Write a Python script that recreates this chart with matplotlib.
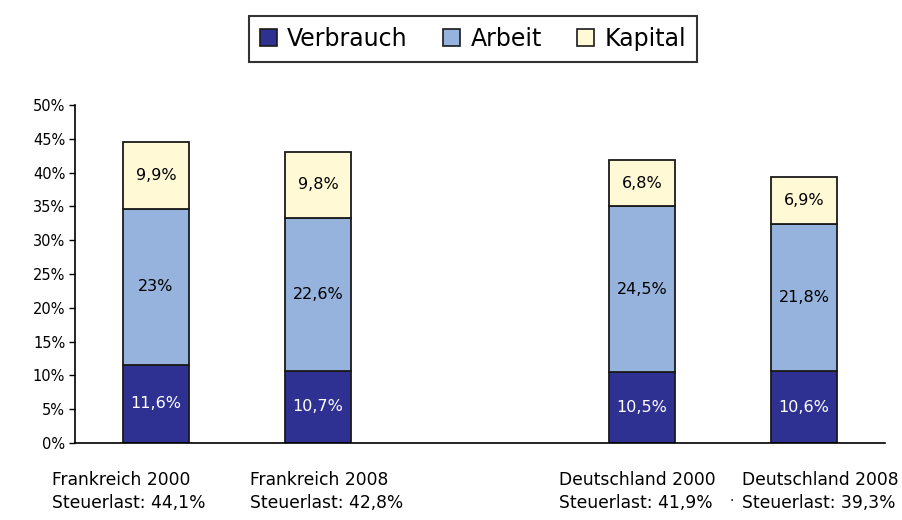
import matplotlib
matplotlib.use("Agg")
import matplotlib.pyplot as plt
from matplotlib.patches import Patch

categories = ["Frankreich 2000", "Frankreich 2008", "Deutschland 2000", "Deutschland 2008"]
steuerlast = ["44,1%", "42,8%", "41,9%", "39,3%"]
verbrauch = [11.6, 10.7, 10.5, 10.6]
arbeit = [23.0, 22.6, 24.5, 21.8]
kapital = [9.9, 9.8, 6.8, 6.9]
verbrauch_lbl = ["11,6%", "10,7%", "10,5%", "10,6%"]
arbeit_lbl = ["23%", "22,6%", "24,5%", "21,8%"]
kapital_lbl = ["9,9%", "9,8%", "6,8%", "6,9%"]
positions = [0, 1, 3, 4]

c_v = "#2E3192"
c_a = "#95B3DD"
c_k = "#FFF9D6"
edge = "#1a1a1a"

fig = plt.figure(figsize=(9.03, 5.2), dpi=100)
ax = fig.add_axes([75/903, 1-443/520, (885-75)/903, (443-105)/520])

w = 0.41
ax.bar(positions, verbrauch, w, color=c_v, edgecolor=edge, linewidth=1.3)
ax.bar(positions, arbeit, w, bottom=verbrauch, color=c_a, edgecolor=edge, linewidth=1.3)
bot3 = [v + a for v, a in zip(verbrauch, arbeit)]
ax.bar(positions, kapital, w, bottom=bot3, color=c_k, edgecolor=edge, linewidth=1.3)

fs_lbl = 11.5
for i, p in enumerate(positions):
    ax.text(p, verbrauch[i] / 2, verbrauch_lbl[i], ha="center", va="center", color="white", fontsize=fs_lbl)
    ax.text(p, verbrauch[i] + arbeit[i] / 2, arbeit_lbl[i], ha="center", va="center", color="black", fontsize=fs_lbl)
    ax.text(p, bot3[i] + kapital[i] / 2, kapital_lbl[i], ha="center", va="center", color="black", fontsize=fs_lbl)

ax.set_xlim(-0.5, 4.5)
ax.set_ylim(0, 50)
ax.set_yticks(range(0, 51, 5))
ax.set_yticklabels([f"{t}%" for t in range(0, 51, 5)], fontsize=10.5)
ax.set_xticks([])
for s in ["top", "right"]:
    ax.spines[s].set_visible(False)
ax.spines["left"].set_linewidth(1.2)
ax.spines["bottom"].set_linewidth(1.2)
ax.tick_params(axis="y", length=4, width=1.0, pad=3)

# category labels (two lines, left aligned)
label_x = [52, 250, 559, 742]
for i, cat in enumerate(categories):
    fig.text(label_x[i] / 903, 1 - 480 / 520, cat, ha="left", va="center", fontsize=12.3)
    fig.text(label_x[i] / 903, 1 - 503 / 520, "Steuerlast: " + steuerlast[i], ha="left", va="center", fontsize=12.3)
fig.text(732 / 903, 1 - 501 / 520, "·", ha="center", va="center", fontsize=10)

handles = [Patch(facecolor=c_v, edgecolor=edge, linewidth=1.2),
           Patch(facecolor=c_a, edgecolor=edge, linewidth=1.2),
           Patch(facecolor=c_k, edgecolor=edge, linewidth=1.2)]
leg = fig.legend(handles, ["Verbrauch", "Arbeit", "Kapital"], loc="center",
                 bbox_to_anchor=(473 / 903, 1 - 39 / 520), ncol=3, fontsize=17,
                 frameon=True, fancybox=False, edgecolor="black", handlelength=0.7,
                 handleheight=0.7, handletextpad=0.45, columnspacing=1.5,
                 borderpad=0.45)
leg.get_frame().set_linewidth(1.5)

fig.savefig("out.png", dpi=100, facecolor="white")
